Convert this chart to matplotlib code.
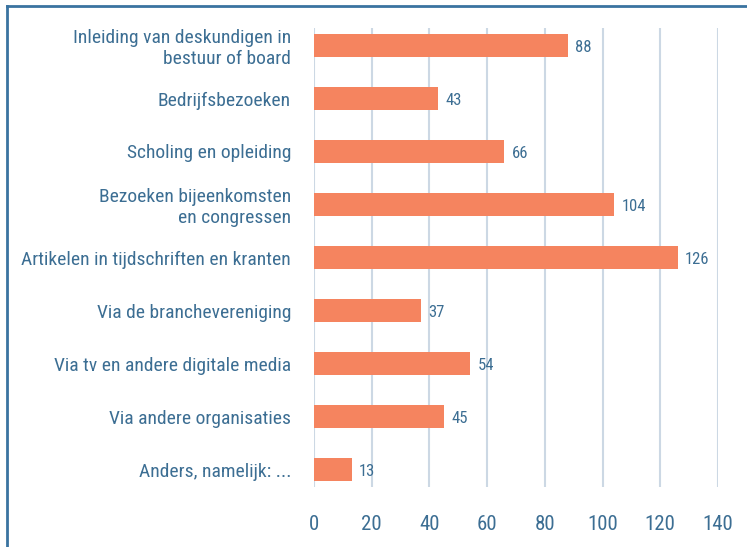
import matplotlib
matplotlib.use("Agg")
import matplotlib.pyplot as plt

categories = [
    "Inleiding van deskundigen in\nbestuur of board",
    "Bedrijfsbezoeken",
    "Scholing en opleiding",
    "Bezoeken bijeenkomsten\nen congressen",
    "Artikelen in tijdschriften en kranten",
    "Via de branchevereniging",
    "Via tv en andere digitale media",
    "Via andere organisaties",
    "Anders, namelijk: ...",
]
values = [88, 43, 66, 104, 126, 37, 54, 45, 13]
xticks = [0, 20, 40, 60, 80, 100, 120, 140]

plt.rcParams['font.family'] = ['Roboto Condensed', 'DejaVu Sans']

TXT = "#3C6E93"
BAR = "#F5845F"
GRID = "#CCD8E4"
BORDER = "#3A73A0"

fig = plt.figure(figsize=(7.47, 5.47), dpi=100)
ax = fig.add_axes([314/747, 1-487/547, 404/747, 459/547])

y = list(range(len(categories)))
ax.barh(y, values, height=0.42, color=BAR, zorder=3)
for yi, v in zip(y, values):
    ax.text(v + 2.6, yi + 0.03, str(v), va="center", ha="left", fontsize=12, color=TXT)

ax.set_xlim(0, 140)
ax.set_ylim(8.33, -0.33)
ax.set_xticks(xticks)
ax.set_xticklabels([str(t) for t in xticks], fontsize=15, color=TXT)
ax.set_yticks(y)
ax.set_yticklabels(categories, fontsize=14, color=TXT, linespacing=1.2)
ax.tick_params(axis="x", length=0, pad=20)
ax.tick_params(axis="y", length=0, pad=16.5)
for s in ax.spines.values():
    s.set_visible(False)
ax.grid(axis="x", color=GRID, linewidth=1.5, zorder=0)
ax.set_axisbelow(True)

fig.add_artist(plt.Line2D([7/747, 1.0], [1-6/547, 1-6/547], transform=fig.transFigure, color=BORDER, linewidth=2))
fig.add_artist(plt.Line2D([7/747, 7/747], [0, 1-6/547], transform=fig.transFigure, color=BORDER, linewidth=2))

fig.savefig("out.png", dpi=100)
